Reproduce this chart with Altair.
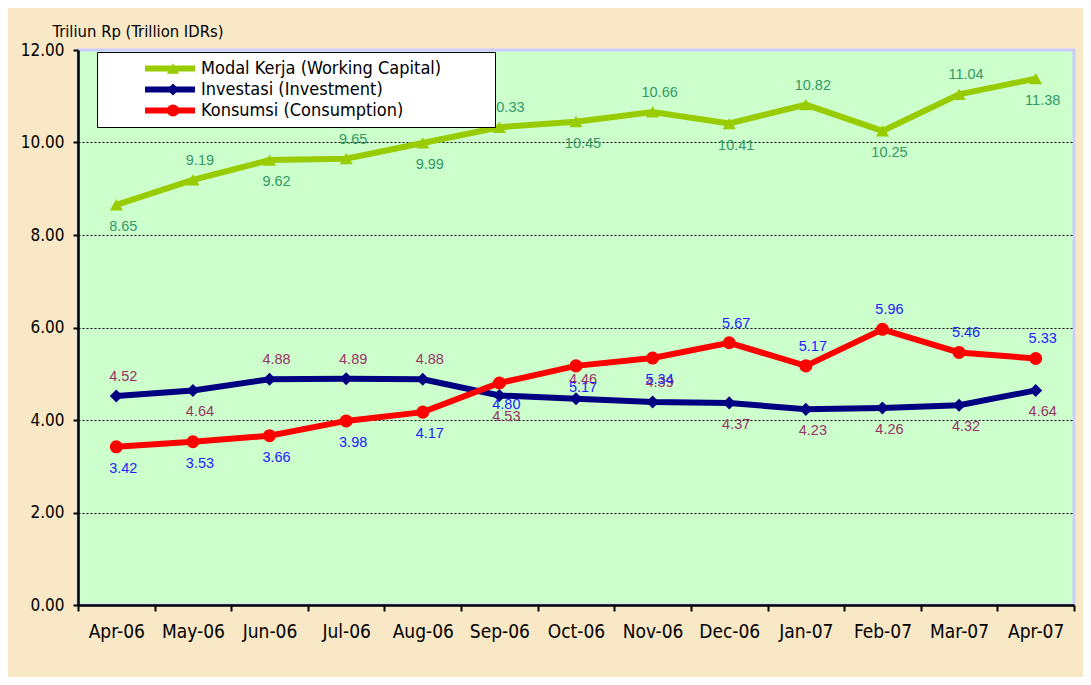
import altair as alt
import pandas as pd

months = ["Apr-06", "May-06", "Jun-06", "Jul-06", "Aug-06", "Sep-06", "Oct-06",
          "Nov-06", "Dec-06", "Jan-07", "Feb-07", "Mar-07", "Apr-07"]
series_names = ["Modal Kerja (Working Capital)", "Investasi (Investment)", "Konsumsi (Consumption)"]
working_capital = [8.65, 9.19, 9.62, 9.65, 9.99, 10.33, 10.45, 10.66, 10.41, 10.82, 10.25, 11.04, 11.38]
investment = [4.52, 4.64, 4.88, 4.89, 4.88, 4.53, 4.46, 4.39, 4.37, 4.23, 4.26, 4.32, 4.64]
consumption = [3.42, 3.53, 3.66, 3.98, 4.17, 4.80, 5.17, 5.34, 5.67, 5.17, 5.96, 5.46, 5.33]

# where each value label sits: a = above the point, b = below the point
wc_place = ["b", "a", "b", "a", "b", "a", "b", "a", "b", "a", "b", "a", "b"]
inv_place = ["a", "b", "a", "a", "a", "b", "a", "a", "b", "b", "b", "b", "b"]
con_place = ["b", "b", "b", "b", "b", "b", "b", "b", "a", "a", "a", "a", "a"]

line_colors = ["#99cc00", "#000080", "#ff0000"]
label_colors = ["#339966", "#993366", "#2222ff"]
shapes = ["triangle-up", "diamond", "circle"]

rows = []
for name, vals, places in zip(series_names, [working_capital, investment, consumption],
                              [wc_place, inv_place, con_place]):
    for i, (m, v, p) in enumerate(zip(months, vals, places)):
        rows.append({"month": m, "series": name, "value": v, "place": p, "order": i})
df = pd.DataFrame(rows)

FONT = "DejaVu Sans Condensed, DejaVu Sans, sans-serif"
LFONT = "Liberation Sans, Arial, sans-serif"

x_enc = alt.X("month:N", sort=months, bandPosition=0.5,
              scale=alt.Scale(type="band", paddingInner=0, paddingOuter=0),
              axis=alt.Axis(title=None, tickBand="extent", labelAngle=0, labelFont=FONT,
                            labelFontSize=19, labelColor="black", labelPadding=11,
                            domainColor="black", domainWidth=2.5, tickColor="black",
                            tickWidth=2, tickSize=6, grid=False))

y_enc = alt.Y("value:Q", scale=alt.Scale(domain=[0, 12], nice=False, zero=True),
              axis=alt.Axis(title="Triliun Rp (Trillion IDRs)", values=[0, 2, 4, 6, 8, 10, 12],
                            format=".2f", labelFont=FONT, labelFontSize=17, labelColor="black",
                            labelPadding=9, tickColor="black", tickWidth=2, tickSize=5,
                            domainColor="black", domainWidth=2.5,
                            grid=True, gridColor="black", gridDash=[2, 2], gridWidth=1,
                            gridOpacity={"condition": {"test": "datum.value <= 0 || datum.value >= 12",
                                                       "value": 0}, "value": 1},
                            titleAngle=0, titleAlign="left", titleBaseline="alphabetic",
                            titleX=-26, titleY=-14, titleFont=FONT, titleFontSize=16.5,
                            titleFontWeight="normal", titleColor="black"))

pad = 6
widen = "datum.label + '\u2800\u2800\u2800\u2800'"
lines = alt.Chart(df).mark_line(strokeWidth=6).encode(
    x=x_enc, y=y_enc,
    stroke=alt.Stroke("series:N", sort=series_names,
                      scale=alt.Scale(range=line_colors),
                      legend=alt.Legend(title=None, orient="none", legendX=19, legendY=2,
                                        symbolType="stroke", symbolSize=2500, symbolStrokeWidth=6,
                                        labelFont=FONT, labelFontSize=18, labelColor="black",
                                        labelExpr=widen, labelLimit=600,
                                        fillColor="white", strokeColor="black", padding=pad,
                                        symbolOffset=39, labelOffset=3, rowPadding=0,
                                        clipHeight=21)),
    order=alt.Order("order:Q"),
)

pt_legend = alt.Legend(title=None, orient="none", legendX=19, legendY=2,
                       symbolSize=150, symbolStrokeWidth=0,
                       labelFont=FONT, labelFontSize=18, labelOpacity=0,
                       labelExpr=widen, labelLimit=600,
                       padding=pad, symbolOffset=61, labelOffset=3, rowPadding=0, clipHeight=21)
points = alt.Chart(df).mark_point(filled=True, size=170, opacity=1).encode(
    x=x_enc, y=y_enc,
    shape=alt.Shape("series:N",
                    scale=alt.Scale(domain=series_names, range=shapes), legend=pt_legend),
    color=alt.Color("series:N",
                    scale=alt.Scale(domain=series_names, range=line_colors), legend=pt_legend),
)

def labels(place, dy):
    return alt.Chart(df).transform_filter(alt.datum.place == place).mark_text(
        font=LFONT, fontSize=14.5, dx=7, dy=dy, baseline="middle", align="center"
    ).encode(
        x=x_enc, y=y_enc,
        text=alt.Text("value:Q", format=".2f"),
        fill=alt.Fill("series:N", scale=alt.Scale(domain=series_names, range=label_colors),
                      legend=None),
    )

chart = alt.layer(lines, points, labels("a", -19), labels("b", 22)).properties(
    width=996, height=555,
    autosize=alt.AutoSizeParams(type="none"),
    padding={"left": 70, "top": 42, "right": 9, "bottom": 72},
    background="#f9e8c6",
).configure_view(
    fill="#ccffcc", stroke="#ccccff", strokeWidth=3
)

chart.save("out.html", embed_options={"renderer": "svg", "actions": False})
